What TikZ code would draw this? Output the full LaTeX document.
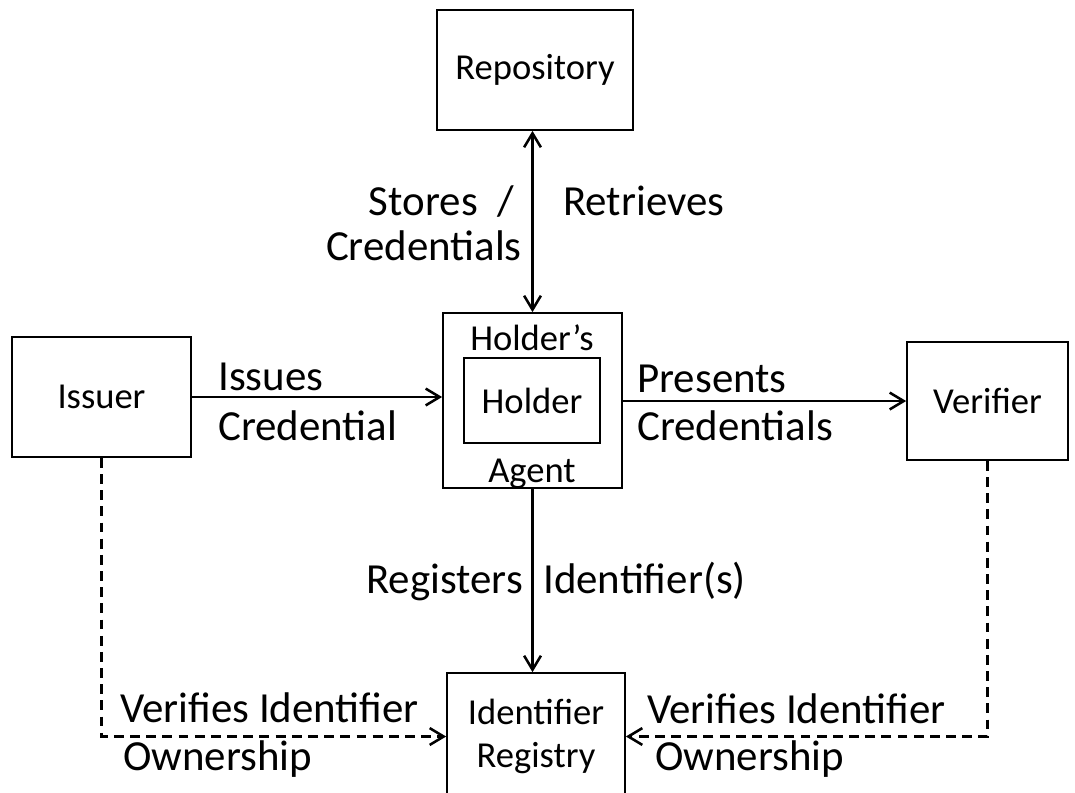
\documentclass[tikz,border=0pt]{standalone}
\usepackage{fontspec}
\setmainfont{Carlito}
\usetikzlibrary{arrows.meta}
\tikzset{
  box/.style={draw, line width=1.2pt, fill=white, inner sep=0pt,
    font=\fontsize{26}{30}\selectfont},
  lbl/.style={inner sep=0pt, font=\fontsize{30.5}{35}\selectfont},
  link/.style={line width=1.8pt, -{Straight Barb[length=3.5mm,width=4.2mm]}},
  verify/.style={link, dashed, dash pattern=on 7pt off 4.5pt}
}
\begin{document}
\begin{tikzpicture}[x=0.025cm, y=-0.025cm]
\useasboundingbox (0,0) rectangle (1075,792);

% Boxes
\node[box, minimum width=4.9cm, minimum height=3cm] (repo) at (535,70) {Repository};
\node[box, minimum width=4.475cm, minimum height=4.375cm] (agent) at (532.5,400.5) {};
\node[box, minimum width=3.4cm, minimum height=2.125cm] (holder) at (532,400.5) {Holder};
\node[box, draw=none, fill=none, anchor=base] (agenttop) at (532,350) {Holder’s};
\node[box, draw=none, fill=none, anchor=base] (agentbot) at (532,482) {Agent};
\node[box, minimum width=4.475cm, minimum height=3cm] (issuer) at (101.5,397) {Issuer};
\node[box, minimum width=4.025cm, minimum height=2.95cm] (verifier) at (987.5,401) {Verifier};
\node[box, align=center, minimum width=4.45cm, minimum height=3.175cm] (registry) at (536,736.5) {Identifier\\Registry};

% Connectors
\draw[link, {Straight Barb[length=3.5mm,width=4.2mm]}-{Straight Barb[length=3.5mm,width=4.2mm]}]
  (agent.north |- repo.south) -- (agent.north);
\draw[link] (issuer.east) -- (issuer.east -| agent.west);
\draw[link] (agent.east |- verifier.west) -- (verifier.west);
\draw[link] (agent.south) -- (agent.south |- registry.north);
\draw[verify] (issuer.south) |- (registry.west);
\draw[verify] (verifier.south) |- (registry.east);

% Labels
\node[lbl, anchor=base east] (stores) at (514,215) {Stores \ /};
\node[lbl, anchor=base east] (storescred) at (522,260) {Credentials};
\node[lbl, anchor=base west] (retrieves) at (563,215) {Retrieves};
\node[lbl, anchor=base west] (issues) at (218,390) {Issues};
\node[lbl, anchor=base west] (issuescred) at (218,440) {Credential};
\node[lbl, anchor=base west] (presents) at (637,392) {Presents};
\node[lbl, anchor=base west] (presentscred) at (637,440) {Credentials};
\node[lbl, anchor=base east] (registers) at (523,593) {Registers};
\node[lbl, anchor=base west] (regid) at (543,593) {Identifier(s)};
\node[lbl, anchor=base west] (verleft) at (120,722) {Verifies Identifier};
\node[lbl, anchor=base west] (ownleft) at (123,770) {Ownership};
\node[lbl, anchor=base west] (verright) at (647,723) {Verifies Identifier};
\node[lbl, anchor=base west] (ownright) at (655,770) {Ownership};
\end{tikzpicture}
\end{document}
